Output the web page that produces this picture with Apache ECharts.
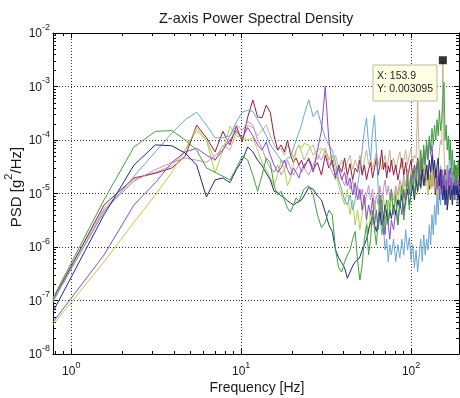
<!DOCTYPE html>
<html>
<head>
<meta charset="utf-8">
<script src="https://cdn.jsdelivr.net/npm/echarts@6/dist/echarts.min.js"></script>
<style>html,body{margin:0;padding:0;background:#fff}#c{width:460px;height:398px}</style>
</head>
<body>
<div id="c"></div>
<script>
// Frequency bins [Hz]
const freq = [0.78,1.56,2.34,3.13,3.91,4.69,5.47,6.25,7.03,7.81,8.59,9.38,10.16,10.94,11.72,12.5,13.28,14.06,14.84,15.63,16.41,17.19,17.97,18.75,19.53,20.31,21.09,21.88,22.66,23.44,
25,26.56,28.13,29.69,31.25,32.81,34.38,35.94,37.5,39.06,40.63,42.19,43.75,45.31,46.88,48.44,50,51.56,53.13,54.69,56.25,57.81,59.38,60.94,62.5,64.06,65.63,67.19,68.75,70.31,71.88,73.44,75,76.56,
78.91,81.25,83.59,85.94,88.28,90.63,92.97,95.31,97.66,100,102.34,104.69,107.03,109.38,111.72,114.06,116.41,118.75,121.09,123.44,125.78,128.13,130.47,132.81,135.16,137.5,139.84,142.19,144.53,146.88,149.22,151.56,153.91,156.25,158.59,160.94,163.28,165.63,167.97,170.31,172.66,175,177.34,179.69,182.03,184.38,186.72,189.06,191.41];

// PSD values [g^2/Hz], one array per measurement
const psdNavy = [6.1e-8,4.0e-6,3.4e-5,8.1e-5,7.8e-5,5.7e-5,3.4e-5,8.6e-6,1.8e-5,1.95e-5,1.6e-5,2.8e-5,4.2e-5,7.4e-5,6.0e-5,4.2e-5,3.3e-5,2.4e-5,1.8e-5,1.1e-5,1.05e-5,9.0e-6,8.3e-6,7.3e-6,6.7e-6,6.1e-6,6.7e-6,7.0e-6,7.6e-6,9.0e-6,
1.3e-5,1.2e-5,9.0e-6,7.6e-6,4.5e-6,2.6e-6,1.95e-6,8.8e-7,6.3e-7,5.1e-7,4.1e-7,2.6e-7,3.4e-7,4.4e-7,5.3e-7,5.7e-7,6.5e-7,8.8e-7,1.1e-6,1.4e-6,2.1e-6,2.9e-6,3.6e-6,2.6e-6,1.95e-6,3.2e-6,4.5e-6,2.6e-6,3.4e-6,6.1e-6,4.0e-6,2.9e-6,4.9e-6,3.4e-6,
6.1e-6,4.0e-6,7.6e-6,5.3e-6,9.4e-6,4.5e-6,7.6e-6,1.2e-5,6.1e-6,9.4e-6,1.4e-5,7.6e-6,1.8e-5,1.1e-5,2.2e-5,1.3e-5,2.8e-5,1.4e-5,2.2e-5,3.4e-5,1.8e-5,4.2e-5,2.5e-5,5.2e-5,2.8e-5,4.2e-5,1.95e-5,3.4e-5,4.6e-5,1.4e-5,2.8e-5,1.2e-5,7.6e-6,1.4e-5,6.1e-6,1.2e-5,4.9e-6,9.4e-6,1.4e-5,7.6e-6,1.2e-5,6.1e-6,1.4e-5,9.4e-6,1.8e-5,9.4e-6,1.4e-5,7.6e-6,1.2e-5];

const psdGreen = [1.1e-7,7.6e-6,7.4e-5,1.45e-4,1.5e-4,1.0e-4,6.5e-5,3.0e-5,2.5e-5,2.1e-5,1.8e-5,3.0e-5,5.0e-5,4.2e-5,2.2e-5,1.1e-5,2.2e-5,4.6e-5,3.8e-5,1.4e-5,9.4e-6,1.1e-5,7.6e-6,5.3e-6,4.5e-6,6.1e-6,8.3e-6,7.0e-6,9.4e-6,1.2e-5,
1.4e-5,9.4e-6,4.0e-6,2.3e-6,2.9e-6,4.9e-6,4.0e-6,8.8e-7,4.1e-7,3.4e-7,5.3e-7,7.1e-7,8.8e-7,1.4e-6,1.95e-6,5.7e-7,2.4e-7,4.6e-7,1.4e-6,2.6e-6,7.1e-7,1.4e-6,4.9e-6,2.1e-6,1.1e-6,3.2e-6,9.4e-6,4.0e-6,1.7e-6,4.9e-6,7.6e-6,2.6e-6,6.1e-6,1.2e-5,
4.0e-6,9.4e-6,2.6e-6,6.1e-6,1.4e-5,3.2e-6,7.6e-6,2.2e-5,4.9e-6,1.2e-5,2.8e-5,9.4e-6,1.8e-5,4.2e-5,1.4e-5,6.5e-5,2.8e-5,8.1e-5,3.4e-5,1.0e-4,4.6e-5,1.2e-4,6.5e-5,1.65e-4,8.1e-5,1.9e-4,1.0e-4,2.4e-4,1.2e-4,3.6e-4,1.5e-4,2.4e-4,5.6e-4,1.2e-3,1.0e-4,1.9e-4,6.5e-5,1.2e-4,4.2e-5,1.0e-4,2.8e-5,6.5e-5,2.2e-5,4.2e-5,1.4e-5,3.4e-5,1.8e-5,4.2e-5,2.2e-5];

const psdLightBlue = [1.0e-7,4.5e-6,2.1e-5,6.0e-5,1.35e-4,2.4e-4,3.3e-4,1.9e-4,1.1e-4,1.1e-4,1.2e-4,2.2e-4,3.3e-4,3.6e-4,3.4e-4,2.4e-4,1.7e-4,1.2e-4,8.1e-5,6.5e-5,5.2e-5,4.2e-5,3.8e-5,4.6e-5,4.8e-5,7.0e-5,1.0e-4,1.4e-4,1.9e-4,2.9e-4,
5.6e-4,2.7e-4,3.6e-4,1.9e-4,1.1e-4,8.1e-5,6.5e-5,3.8e-5,1.8e-5,1.2e-5,7.6e-6,6.1e-6,9.4e-6,4.9e-6,7.6e-6,1.4e-5,2.8e-5,6.5e-5,1.5e-4,2.6e-4,8.1e-5,4.2e-5,1.5e-4,2.9e-4,6.5e-5,1.2e-5,4.0e-6,1.7e-6,2.6e-6,8.8e-7,1.4e-6,5.3e-7,1.1e-6,7.1e-7,
1.4e-6,5.3e-7,1.1e-6,6.3e-7,1.4e-6,7.1e-7,2.1e-6,8.8e-7,1.5e-6,5.7e-7,1.1e-6,4.1e-7,8.8e-7,3.4e-7,7.1e-7,1.4e-6,5.3e-7,1.7e-6,7.1e-7,1.4e-6,8.8e-7,2.6e-6,1.1e-6,4.0e-6,1.7e-6,6.1e-6,2.6e-6,9.4e-6,4.0e-6,1.2e-5,6.1e-6,1.4e-5,7.6e-6,2.2e-5,9.4e-6,1.8e-5,3.4e-5,1.4e-5,4.2e-5,1.0e-4,2.2e-5,9.4e-6,2.8e-5,1.4e-5,7.6e-6,2.2e-5,1.2e-5,6.1e-6,1.4e-5];

const psdMaroon = [1.0e-7,6.1e-6,1.95e-5,2.4e-5,3.0e-5,5.0e-5,1.9e-4,1.1e-4,6.0e-5,1.45e-4,8.1e-5,1.8e-4,9.2e-5,2.7e-4,5.6e-4,2.7e-4,2.6e-4,4.5e-4,3.3e-4,1.2e-4,6.5e-5,8.1e-5,6.0e-5,1.0e-4,5.2e-5,3.8e-5,4.6e-5,3.4e-5,4.2e-5,3.0e-5,
4.6e-5,2.8e-5,3.8e-5,2.2e-5,5.2e-5,3.0e-5,4.2e-5,1.95e-5,3.4e-5,2.5e-5,4.6e-5,2.2e-5,3.6e-5,1.8e-5,3.0e-5,2.5e-5,4.2e-5,2.2e-5,3.4e-5,1.8e-5,2.8e-5,3.8e-5,1.95e-5,3.0e-5,4.6e-5,2.2e-5,3.4e-5,6.5e-5,2.8e-5,3.8e-5,1.95e-5,3.3e-5,2.5e-5,4.2e-5,
2.2e-5,3.4e-5,1.8e-5,2.8e-5,4.6e-5,2.2e-5,3.8e-5,1.8e-5,3.0e-5,4.2e-5,1.95e-5,3.4e-5,2.5e-5,4.6e-5,2.8e-5,1.8e-5,3.4e-5,2.2e-5,1.4e-5,2.8e-5,1.8e-5,1.2e-5,2.2e-5,1.4e-5,2.8e-5,1.6e-5,9.4e-6,1.95e-5,1.3e-5,2.5e-5,1.4e-5,2.2e-5,1.2e-5,1.8e-5,2.8e-5,1.4e-5,2.2e-5,1.2e-5,1.95e-5,3.0e-5,1.6e-5,2.5e-5,1.4e-5,2.2e-5,3.4e-5,1.8e-5,2.8e-5,1.95e-5,3.0e-5];

const psdTan = [1.1e-7,5.3e-6,1.8e-5,2.5e-5,3.3e-5,6.5e-5,1.5e-4,1.0e-4,4.2e-5,8.1e-5,6.5e-5,1.4e-4,1.0e-4,1.9e-4,1.7e-4,1.2e-4,1.5e-4,1.9e-4,1.2e-4,8.1e-5,6.5e-5,7.0e-5,5.2e-5,8.1e-5,6.5e-5,4.6e-5,6.5e-5,8.1e-5,6.0e-5,4.2e-5,
6.5e-5,8.1e-5,4.2e-5,6.5e-5,7.0e-5,4.6e-5,3.4e-5,5.2e-5,3.0e-5,4.2e-5,2.8e-5,3.8e-5,5.2e-5,2.8e-5,4.2e-5,3.0e-5,5.2e-5,2.5e-5,4.2e-5,6.5e-5,3.4e-5,4.6e-5,2.8e-5,4.2e-5,6.0e-5,3.4e-5,4.6e-5,2.8e-5,3.8e-5,5.2e-5,3.0e-5,4.2e-5,6.5e-5,3.4e-5,
4.6e-5,2.8e-5,4.2e-5,6.0e-5,3.0e-5,4.2e-5,6.5e-5,3.4e-5,5.2e-5,7.0e-5,3.8e-5,5.2e-5,4.6e-5,5.3e-4,4.2e-5,2.8e-5,4.6e-5,2.2e-5,3.4e-5,1.8e-5,2.8e-5,4.2e-5,2.2e-5,3.4e-5,1.8e-5,2.8e-5,1.4e-5,2.2e-5,3.4e-5,6.5e-5,1.0e-4,8.1e-5,0.003095,6.5e-5,2.2e-5,1.2e-5,1.8e-5,9.4e-6,1.4e-5,7.6e-6,1.2e-5,1.8e-5,9.4e-6,1.4e-5,7.6e-6,1.2e-5,6.1e-6,9.4e-6,1.4e-5];

const psdPurple = [3.9e-8,7.1e-7,6.1e-6,1.6e-5,3.8e-5,6.0e-5,7.0e-5,5.2e-5,4.2e-5,6.5e-5,1.0e-4,1.5e-4,1.1e-4,1.7e-4,1.2e-4,8.1e-5,6.5e-5,9.2e-5,5.2e-5,3.4e-5,2.5e-5,3.0e-5,4.2e-5,2.8e-5,2.2e-5,3.0e-5,2.5e-5,1.95e-5,2.8e-5,3.4e-5,
4.2e-5,2.5e-5,6.5e-5,1.5e-4,1.0e-3,1.0e-4,3.4e-5,2.2e-5,3.0e-5,1.8e-5,2.5e-5,1.4e-5,1.95e-5,9.4e-6,1.6e-5,7.6e-6,1.2e-5,4.9e-6,9.4e-6,3.2e-6,6.1e-6,4.0e-6,8.3e-6,2.6e-6,4.9e-6,2.1e-6,4.0e-6,7.6e-6,3.2e-6,1.7e-6,4.9e-6,2.6e-6,1.4e-6,3.2e-6,
2.1e-6,4.9e-6,2.6e-6,7.6e-6,4.0e-6,1.2e-5,6.1e-6,1.8e-5,9.4e-6,2.2e-5,1.2e-5,2.8e-5,1.4e-5,3.4e-5,1.8e-5,4.2e-5,2.2e-5,6.5e-5,3.4e-5,8.1e-5,4.2e-5,1.0e-4,5.2e-5,8.1e-5,3.4e-5,1.8e-5,2.8e-5,1.2e-5,2.2e-5,7.6e-6,1.4e-5,2.8e-5,1.2e-5,2.2e-5,9.4e-6,1.8e-5,7.6e-6,1.4e-5,2.8e-5,1.2e-5,1.95e-5,9.4e-6,1.6e-5,7.6e-6,1.3e-5,2.2e-5,1.1e-5,1.8e-5,9.4e-6];

const psdYellowGreen = [3.5e-8,5.3e-7,2.9e-6,9.4e-6,2.5e-5,6.5e-5,1.7e-4,1.0e-4,2.4e-5,6.5e-5,1.8e-4,1.2e-4,1.1e-4,1.0e-4,1.1e-4,6.5e-5,3.8e-5,2.8e-5,1.95e-5,1.4e-5,2.2e-5,4.2e-5,2.8e-5,1.4e-5,1.95e-5,3.4e-5,6.5e-5,8.1e-5,7.0e-5,8.6e-5,
8.1e-5,5.2e-5,6.5e-5,7.0e-5,6.0e-5,4.2e-5,5.2e-5,2.8e-5,1.4e-5,9.4e-6,6.1e-6,1.2e-5,4.0e-6,7.6e-6,2.6e-6,4.9e-6,2.1e-6,4.0e-6,7.6e-6,3.2e-6,1.7e-6,4.9e-6,2.6e-6,7.6e-6,4.0e-6,2.1e-6,6.1e-6,3.2e-6,9.4e-6,4.0e-6,2.6e-6,7.6e-6,4.0e-6,9.4e-6,
4.9e-6,1.2e-5,6.1e-6,1.4e-5,7.6e-6,1.8e-5,9.4e-6,2.2e-5,1.2e-5,2.8e-5,1.4e-5,7.6e-6,1.8e-5,9.4e-6,2.2e-5,1.2e-5,2.8e-5,1.4e-5,3.4e-5,1.8e-5,9.4e-6,2.2e-5,1.2e-5,2.8e-5,1.4e-5,3.4e-5,1.8e-5,9.4e-6,2.2e-5,1.2e-5,2.8e-5,1.4e-5,7.6e-6,1.8e-5,9.4e-6,2.2e-5,1.2e-5,6.1e-6,1.4e-5,9.4e-6,2.2e-5,1.2e-5,1.8e-5,7.6e-6,1.4e-5,2.8e-5,1.2e-5,1.8e-5,9.4e-6];

const psdLavender = [9.4e-8,4.9e-6,1.7e-5,2.8e-5,3.8e-5,4.6e-5,4.2e-5,3.8e-5,5.2e-5,6.5e-5,1.2e-4,1.9e-4,1.5e-4,2.2e-4,1.9e-4,1.0e-4,7.0e-5,4.2e-5,3.0e-5,2.5e-5,3.4e-5,2.2e-5,2.8e-5,4.2e-5,3.0e-5,2.2e-5,2.8e-5,3.4e-5,2.5e-5,3.0e-5,
2.2e-5,3.4e-5,5.2e-5,4.2e-5,6.5e-5,3.4e-5,2.5e-5,1.8e-5,2.8e-5,1.95e-5,1.4e-5,2.2e-5,1.2e-5,1.8e-5,9.4e-6,1.4e-5,7.6e-6,1.2e-5,6.1e-6,9.4e-6,1.4e-5,7.6e-6,1.2e-5,4.9e-6,9.4e-6,6.1e-6,1.4e-5,7.6e-6,1.2e-5,1.8e-5,9.4e-6,1.4e-5,7.6e-6,1.2e-5,
7.6e-6,1.4e-5,9.4e-6,1.8e-5,1.2e-5,2.2e-5,1.4e-5,2.8e-5,1.5e-5,2.1e-5,1.2e-5,1.8e-5,2.9e-5,1.4e-5,2.3e-5,1.2e-5,1.7e-5,2.6e-5,1.4e-5,2.2e-5,3.4e-5,1.8e-5,2.7e-5,1.3e-5,2.2e-5,1.1e-5,1.8e-5,2.9e-5,1.4e-5,2.1e-5,3.3e-5,1.8e-5,2.8e-5,1.5e-5,2.2e-5,1.2e-5,1.9e-5,2.7e-5,1.4e-5,2.3e-5,1.2e-5,1.7e-5,2.9e-5,1.4e-5,2.2e-5,1.3e-5,1.8e-5,2.6e-5,1.5e-5];

// Data tip on the tan series
const tipPoint = [153.91, 0.003095];
const tipLabel = ['X: 153.9', 'Y: 0.003095'];

// Axis limits and tick values
const xMin = 0.78125, xMax = 191.5, yMin = 1e-8, yMax = 1e-2;
const xMinorTicks = [0.8,0.9,2,3,4,5,6,7,8,9,20,30,40,50,60,70,80,90];
const yMinorTicks = [2e-8,3e-8,4e-8,5e-8,6e-8,7e-8,8e-8,9e-8,2e-7,3e-7,4e-7,5e-7,6e-7,7e-7,8e-7,9e-7,2e-6,3e-6,4e-6,5e-6,6e-6,7e-6,8e-6,9e-6,2e-5,3e-5,4e-5,5e-5,6e-5,7e-5,8e-5,9e-5,2e-4,3e-4,4e-4,5e-4,6e-4,7e-4,8e-4,9e-4,2e-3,3e-3,4e-3,5e-3,6e-3,7e-3,8e-3,9e-3];

const FONT = 'Liberation Sans, Arial, sans-serif';
const seriesDefs = [
  ['Tan', psdTan, '#c9b28c'],
  ['Maroon', psdMaroon, '#8e1f40'],
  ['Lavender', psdLavender, '#c98bc9'],
  ['YellowGreen', psdYellowGreen, '#b0d04a'],
  ['LightBlue', psdLightBlue, '#6aa6d2'],
  ['Purple', psdPurple, '#8a4cc4'],
  ['Navy', psdNavy, '#1f2a78'],
  ['Green', psdGreen, '#3f9f3f']
];

const supFmt = v => '{b|10}{s|' + Math.round(Math.log10(v)) + '}';
const richTick = {
  b: {fontSize: 12, fontFamily: FONT, color: '#1a1a1a', padding: [5, 0, 3, 0]},
  s: {fontSize: 9, fontFamily: FONT, color: '#1a1a1a', padding: [0, 0, 11, 0]}
};
const gridLine = {show: true, lineStyle: {color: '#333', type: [1, 2], width: 1}};
const axisLine = {show: true, onZero: false, lineStyle: {color: '#000', width: 1}};
const tick = {show: true, inside: true, length: 5, lineStyle: {color: '#000'}};

const chart = echarts.init(document.getElementById('c'), null, {renderer: 'canvas'});

const series = seriesDefs.map(([name, vals, color]) => ({
  name, type: 'line', showSymbol: false, symbol: 'none', silent: true, animation: false,
  lineStyle: {color, width: 1}, itemStyle: {color},
  data: freq.map((f, i) => [f, vals[i]])
}));

function tickLine(x1, y1, x2, y2) {
  return {type: 'line', shape: {x1, y1, x2, y2}, style: {stroke: '#000', lineWidth: 1}};
}

series.push({
  type: 'custom', silent: true, animation: false, clip: false,
  data: xMinorTicks.map(v => [v, yMin]),
  renderItem: (params, api) => {
    const b = api.coord([api.value(0), yMin]);
    const t = api.coord([api.value(0), yMax]);
    const x = Math.round(b[0]) + 0.5;
    return {type: 'group', children: [tickLine(x, b[1], x, b[1] - 3), tickLine(x, t[1], x, t[1] + 3)]};
  }
});
series.push({
  type: 'custom', silent: true, animation: false, clip: false,
  data: yMinorTicks.map(v => [xMin, v]),
  renderItem: (params, api) => {
    const l = api.coord([xMin, api.value(1)]);
    const r = api.coord([xMax, api.value(1)]);
    const y = Math.round(l[1]) + 0.5;
    return {type: 'group', children: [tickLine(l[0], y, l[0] + 3, y), tickLine(r[0], y, r[0] - 3, y)]};
  }
});
series.push({
  type: 'scatter', silent: true, animation: false, symbol: 'rect', symbolSize: 8,
  itemStyle: {color: '#000'}, data: [tipPoint], z: 5
});

chart.setOption({
  animation: false,
  backgroundColor: '#fff',
  title: {text: 'Z-axis Power Spectral Density', left: 159, top: 11, padding: 0,
    textStyle: {fontSize: 14.5, fontWeight: 'normal', color: '#1a1a1a', fontFamily: FONT}},
  grid: {left: 53, top: 33, width: 406, height: 321},
  xAxis: [
    {type: 'log', logBase: 10, min: xMin, max: xMax, position: 'bottom',
      axisLine, axisTick: tick, splitLine: gridLine,
      axisLabel: {show: true, margin: 7, formatter: supFmt, rich: richTick, showMinLabel: false, showMaxLabel: false}},
    {type: 'log', logBase: 10, min: xMin, max: xMax, position: 'top',
      axisLine, axisTick: tick, splitLine: {show: false}, axisLabel: {show: false}}
  ],
  yAxis: [
    {type: 'log', logBase: 10, min: yMin, max: yMax, position: 'left',
      axisLine, axisTick: tick, splitLine: gridLine,
      axisLabel: {show: true, margin: 3, formatter: supFmt, rich: richTick}},
    {type: 'log', logBase: 10, min: yMin, max: yMax, position: 'right',
      axisLine, axisTick: tick, splitLine: {show: false}, axisLabel: {show: false}}
  ],
  graphic: [
    {type: 'text', x: 15, y: 187, rotation: Math.PI / 2, silent: true,
      style: {text: '{a|PSD [g}{s|2}{a|/Hz]}', align: 'center', verticalAlign: 'middle',
        rich: {a: {fontSize: 15, fontFamily: FONT, fill: '#1a1a1a', color: '#1a1a1a', padding: [6, 0, 2, 0]},
               s: {fontSize: 11, fontFamily: FONT, fill: '#1a1a1a', color: '#1a1a1a', padding: [0, 0, 12, 0]}}}},
    {type: 'text', x: 257, y: 388, silent: true,
      style: {text: 'Frequency [Hz]', fontSize: 14, fontFamily: FONT, fill: '#1a1a1a', align: 'center', verticalAlign: 'middle'}},
    {type: 'rect', shape: {x: 373, y: 65, width: 64, height: 36}, silent: true, z: 10,
      style: {fill: '#ffffe4', stroke: '#b8b8a8', lineWidth: 1}},
    {type: 'text', x: 377, y: 76, silent: true, z: 11,
      style: {text: tipLabel[0], fontSize: 10.5, fontFamily: FONT, fill: '#222', align: 'left', verticalAlign: 'middle'}},
    {type: 'text', x: 377, y: 89, silent: true, z: 11,
      style: {text: tipLabel[1], fontSize: 10.5, fontFamily: FONT, fill: '#222', align: 'left', verticalAlign: 'middle'}}
  ],
  series
});
</script>
</body>
</html>
